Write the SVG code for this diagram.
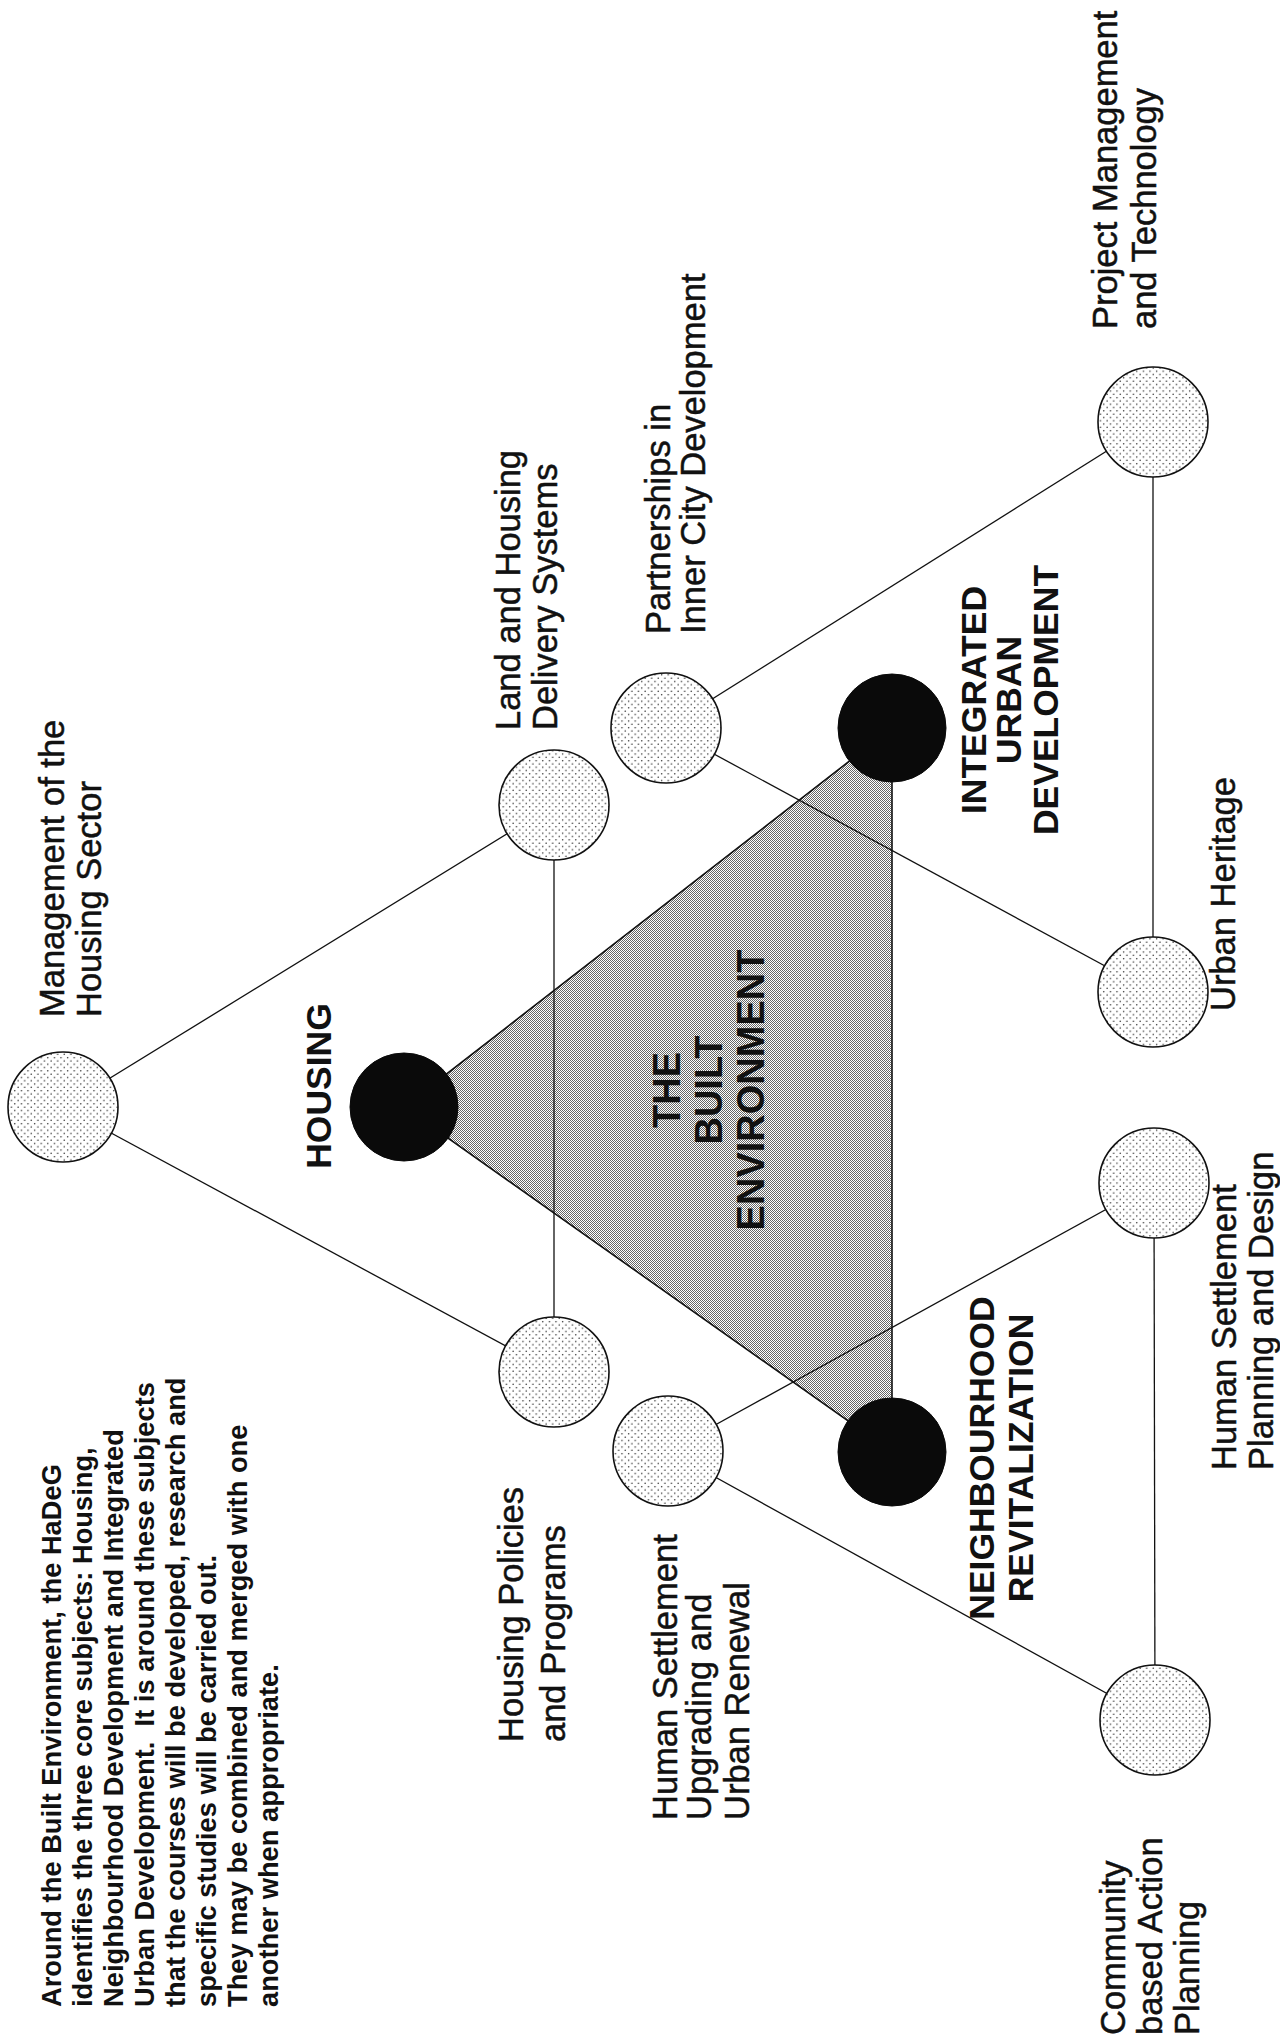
<svg xmlns="http://www.w3.org/2000/svg" width="1280" height="2039" viewBox="0 0 1280 2039">
  <defs>
    <!-- sparse dot screen for the subject circles -->
    <pattern id="stipple" width="6.6" height="6.6" patternUnits="userSpaceOnUse">
      <rect width="6.6" height="6.6" fill="#ffffff"/>
      <circle cx="1.6" cy="1.6" r="0.75" fill="#222222"/>
      <circle cx="4.9" cy="4.9" r="0.75" fill="#222222"/>
    </pattern>
    <!-- fine halftone for the central triangle -->
    <pattern id="halftone" width="2" height="2" patternUnits="userSpaceOnUse">
      <rect width="2" height="2" fill="#ffffff"/>
      <rect x="0" y="0" width="1" height="1" fill="#666666"/>
      <rect x="1" y="1" width="1" height="1" fill="#666666"/>
    </pattern>
    <style>
      .node { fill: url(#stipple); stroke: #111; stroke-width: 1.6; }
      .core { fill: #0a0a0a; stroke: #0a0a0a; stroke-width: 1; }
      .link { stroke: #111; stroke-width: 1.3; fill: none; }
      .label { font-family: "Liberation Sans", Arial, Helvetica, sans-serif; font-size: 34.5px; fill: #111; stroke: #111; stroke-width: 0.5; }
      .caps { font-family: "Liberation Sans", Arial, Helvetica, sans-serif; font-size: 35.5px; font-weight: bold; fill: #111; text-anchor: middle; }
      .title { font-family: "Liberation Sans", Arial, Helvetica, sans-serif; font-size: 38px; font-weight: bold; fill: #111; text-anchor: middle; }
      .note { font-family: "Liberation Sans", Arial, Helvetica, sans-serif; font-size: 27.3px; font-weight: bold; fill: #111; }
    </style>
  </defs>

  <rect width="1280" height="2039" fill="#ffffff"/>

  <!-- central triangle: the built environment -->
  <g id="built-environment">
    <polygon points="404,1107 892,728 892,1452" fill="url(#halftone)" stroke="#111" stroke-width="1.6"/>
    <g transform="rotate(-90)">
      <text class="title" x="-1090" y="680">THE</text>
      <text class="title" x="-1090" y="722">BUILT</text>
      <text class="title" x="-1090" y="764">ENVIRONMENT</text>
    </g>
  </g>

  <!-- connectors between the subject circles -->
  <g id="connectors">
    <line class="link" x1="63" y1="1107" x2="554" y2="805"/>
    <line class="link" x1="63" y1="1107" x2="554" y2="1372"/>
    <line class="link" x1="554" y1="805" x2="554" y2="1372"/>
    <line class="link" x1="666" y1="728" x2="1153" y2="422"/>
    <line class="link" x1="666" y1="728" x2="1153" y2="992"/>
    <line class="link" x1="1153" y1="422" x2="1153" y2="992"/>
    <line class="link" x1="668" y1="1451" x2="1154" y2="1183"/>
    <line class="link" x1="668" y1="1451" x2="1155" y2="1720"/>
    <line class="link" x1="1154" y1="1183" x2="1155" y2="1720"/>
  </g>

  <!-- housing cluster -->
  <g id="housing">
    <circle class="core" cx="404" cy="1107" r="54"/>
    <text class="caps" transform="rotate(-90)" x="-1086" y="331">HOUSING</text>
  </g>
  <g id="management-housing-sector">
    <circle class="node" cx="63" cy="1107" r="55"/>
    <g transform="rotate(-90)">
      <text class="label" x="-1017" y="64">Management of the</text>
      <text class="label" x="-1017" y="101">Housing Sector</text>
    </g>
  </g>
  <g id="land-housing-delivery">
    <circle class="node" cx="554" cy="805" r="55"/>
    <g transform="rotate(-90)">
      <text class="label" x="-730" y="520">Land and Housing</text>
      <text class="label" x="-730" y="557">Delivery Systems</text>
    </g>
  </g>
  <g id="housing-policies">
    <circle class="node" cx="554" cy="1372" r="55"/>
    <g transform="rotate(-90)">
      <text class="label" x="-1742" y="523">Housing Policies</text>
      <text class="label" x="-1742" y="565">and Programs</text>
    </g>
  </g>

  <!-- integrated urban development cluster -->
  <g id="integrated-urban-development">
    <circle class="core" cx="892" cy="728" r="54"/>
    <g transform="rotate(-90)">
      <text class="caps" x="-700" y="986">INTEGRATED</text>
      <text class="caps" x="-700" y="1021">URBAN</text>
      <text class="caps" x="-700" y="1058">DEVELOPMENT</text>
    </g>
  </g>
  <g id="partnerships-inner-city">
    <circle class="node" cx="666" cy="728" r="55"/>
    <g transform="rotate(-90)">
      <text class="label" x="-634" y="670">Partnerships in</text>
      <text class="label" x="-634" y="705">Inner City Development</text>
    </g>
  </g>
  <g id="project-management">
    <circle class="node" cx="1153" cy="422" r="55"/>
    <g transform="rotate(-90)">
      <text class="label" x="-329" y="1117">Project Management</text>
      <text class="label" x="-329" y="1156">and Technology</text>
    </g>
  </g>
  <g id="urban-heritage">
    <circle class="node" cx="1153" cy="992" r="55"/>
    <text class="label" transform="rotate(-90)" x="-1011" y="1235">Urban Heritage</text>
  </g>

  <!-- neighbourhood revitalization cluster -->
  <g id="neighbourhood-revitalization">
    <circle class="core" cx="892" cy="1452" r="54"/>
    <g transform="rotate(-90)">
      <text class="caps" x="-1458" y="994">NEIGHBOURHOOD</text>
      <text class="caps" x="-1458" y="1033">REVITALIZATION</text>
    </g>
  </g>
  <g id="settlement-planning-design">
    <circle class="node" cx="1154" cy="1183" r="55"/>
    <g transform="rotate(-90)">
      <text class="label" x="-1470" y="1236">Human Settlement</text>
      <text class="label" x="-1470" y="1273">Planning and Design</text>
    </g>
  </g>
  <g id="settlement-upgrading">
    <circle class="node" cx="668" cy="1451" r="55"/>
    <g transform="rotate(-90)">
      <text class="label" x="-1820" y="677">Human Settlement</text>
      <text class="label" x="-1820" y="711">Upgrading and</text>
      <text class="label" x="-1820" y="749">Urban Renewal</text>
    </g>
  </g>
  <g id="community-action-planning">
    <circle class="node" cx="1155" cy="1720" r="55"/>
    <g transform="rotate(-90)">
      <text class="label" x="-2035" y="1125">Community</text>
      <text class="label" x="-2035" y="1162">based Action</text>
      <text class="label" x="-2035" y="1199">Planning</text>
    </g>
  </g>

  <!-- explanatory note -->
  <g id="note" transform="rotate(-90)">
    <text class="note" x="-2007" y="61">Around the Built Environment, the HaDeG</text>
    <text class="note" x="-2007" y="92">identifies the three core subjects: Housing,</text>
    <text class="note" x="-2007" y="123">Neighbourhood Development and Integrated</text>
    <text class="note" x="-2007" y="154" xml:space="preserve">Urban Development.  It is around these subjects</text>
    <text class="note" x="-2007" y="185">that the courses will be developed, research and</text>
    <text class="note" x="-2007" y="216">specific studies will be carried out.</text>
    <text class="note" x="-2007" y="247">They may be combined and merged with one</text>
    <text class="note" x="-2007" y="278">another when appropriate.</text>
  </g>
</svg>
